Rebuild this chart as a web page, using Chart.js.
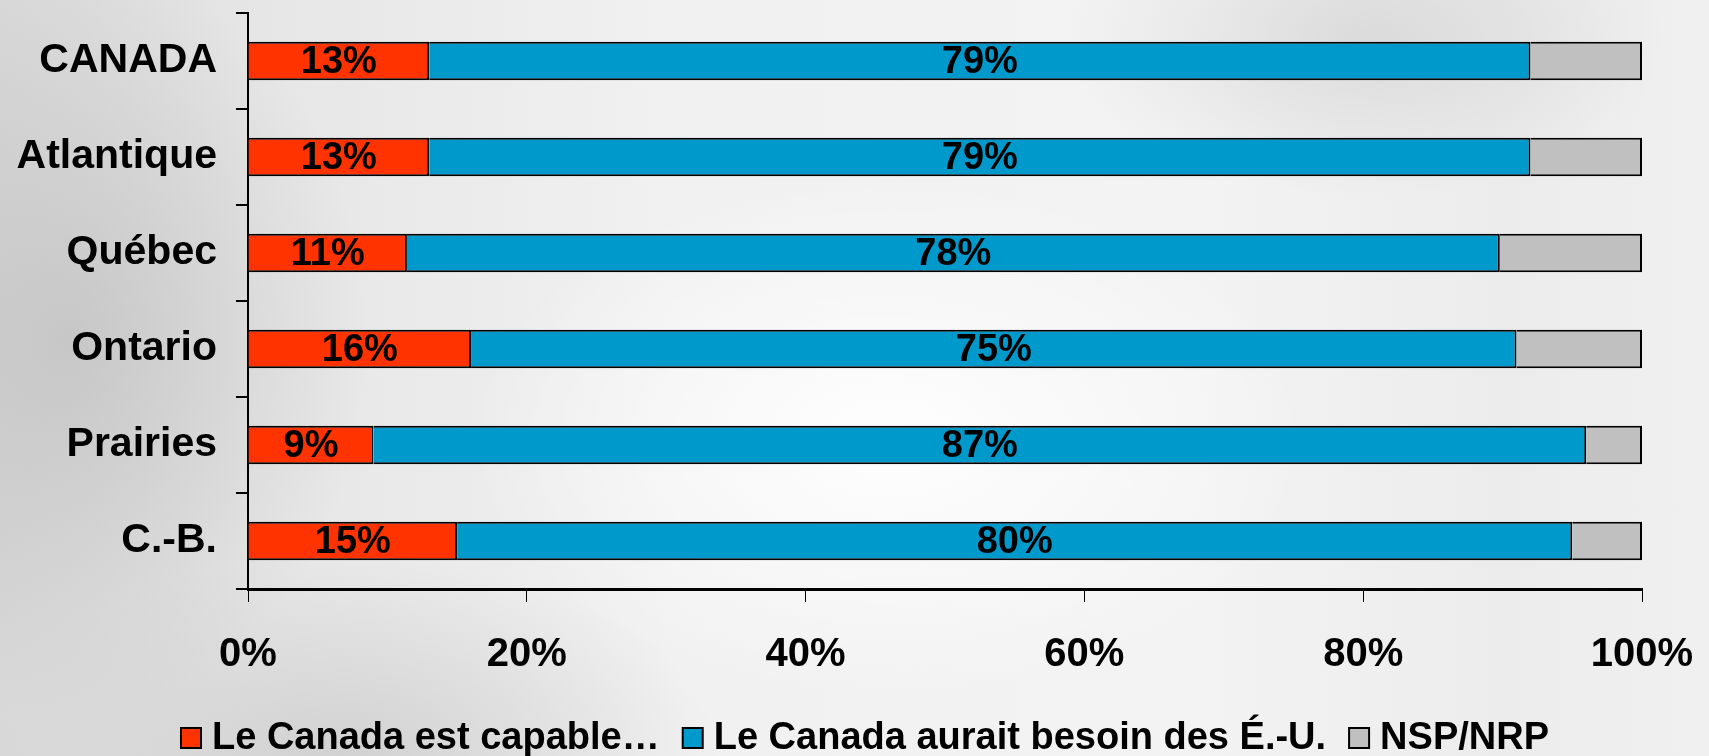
<!DOCTYPE html>
<html>
<head>
<meta charset="utf-8">
<script src="https://cdn.jsdelivr.net/npm/chart.js@4/dist/chart.umd.min.js"></script>
<style>
  html, body { margin: 0; padding: 0; }
  body {
    width: 1709px; height: 756px; overflow: hidden;
    background:
      radial-gradient(ellipse 420px 260px at 52% 58%, rgba(255,255,255,0.95) 0%, rgba(255,255,255,0) 100%),
      radial-gradient(ellipse 300px 380px at 4% 45%, rgba(190,190,190,0.7) 0%, rgba(190,190,190,0) 100%),
      radial-gradient(ellipse 380px 200px at 20% 100%, rgba(200,200,200,0.7) 0%, rgba(200,200,200,0) 100%),
      radial-gradient(ellipse 300px 160px at 80% 5%, rgba(205,205,205,0.6) 0%, rgba(205,205,205,0) 100%),
      linear-gradient(90deg, #d9d9d9 0%, #e6e6e6 15%, #f1f1f1 40%, #f3f3f3 70%, #ececec 88%, #f0f0f0 100%);
  }
  #wrap { position: absolute; left: 0; top: 0; width: 1709px; height: 756px; }
</style>
</head>
<body>
<div id="wrap"><canvas id="regionChart"></canvas></div>
<script>
// regions (top to bottom)
const regions = ['CANADA', 'Atlantique', 'Québec', 'Ontario', 'Prairies', 'C.-B.'];
// series, in % of respondents
const capable = [13, 13, 11.4, 16, 9, 15];
const besoinEU = [79, 79, 78.4, 75, 87, 80];
const nspNrp = [8, 8, 10.2, 9, 4, 5];
const seriesNames = ['Le Canada est capable…', 'Le Canada aurait besoin des É.-U.', 'NSP/NRP'];
const xTicks = [0, 20, 40, 60, 80, 100];

const FONT = "'Liberation Sans', Arial, sans-serif";

// draw the % inside the red and blue segments
const barLabels = {
    id: 'barLabels',
    afterDatasetsDraw(chart) {
        const ctx = chart.ctx;
        ctx.save();
        ctx.font = 'bold 38px ' + FONT;
        ctx.fillStyle = '#000';
        ctx.textAlign = 'center';
        ctx.textBaseline = 'middle';
        [0, 1].forEach(function (di) {
            const meta = chart.getDatasetMeta(di);
            meta.data.forEach(function (bar, i) {
                const v = chart.data.datasets[di].data[i];
                const cx = (bar.x + bar.base) / 2;
                ctx.fillText(Math.round(v) + '%', cx, bar.y + 2);
            });
        });
        ctx.restore();
    }
};

// legend row under the axis, tighter spacing than the built-in one
const bottomLegend = {
    id: 'bottomLegend',
    afterDraw(chart) {
        const ctx = chart.ctx;
        const box = 20, gapText = 11, gapItem = 23;
        const cy = 738;
        ctx.save();
        ctx.font = 'bold 38px ' + FONT;
        ctx.textBaseline = 'middle';
        ctx.textAlign = 'left';
        const items = chart.data.datasets.map(ds => ({
            text: ds.label, color: ds.backgroundColor, w: ctx.measureText(ds.label).width
        }));
        let total = 0;
        items.forEach((it, i) => {
            total += box + gapText + it.w + (i < items.length - 1 ? gapItem : 0);
        });
        let x = 865 - total / 2;
        items.forEach(function (it) {
            ctx.fillStyle = it.color;
            ctx.fillRect(x, cy - box / 2, box, box);
            ctx.lineWidth = 2;
            ctx.strokeStyle = '#000';
            ctx.strokeRect(x, cy - box / 2, box, box);
            ctx.fillStyle = '#000';
            ctx.fillText(it.text, x + box + gapText, cy + 1);
            x += box + gapText + it.w + gapItem;
        });
        ctx.restore();
    }
};

const ctx = document.getElementById('regionChart').getContext('2d');
const regionChart = new Chart(ctx, {
    type: 'bar',
    data: {
        labels: regions,
        datasets: [{
            label: seriesNames[0],
            data: capable,
            backgroundColor: '#FF3300',
            borderColor: '#000',
            borderWidth: 2,
        }, {
            label: seriesNames[1],
            data: besoinEU,
            backgroundColor: '#0099CC',
            borderColor: '#000',
            borderWidth: 2,
        }, {
            label: seriesNames[2],
            data: nspNrp,
            backgroundColor: '#C0C0C0',
            borderColor: '#000',
            borderWidth: 2,
        }]
    },
    options: {
        indexAxis: 'y',
        responsive: true,
        maintainAspectRatio: false,
        animation: false,
        categoryPercentage: 1,
        barPercentage: 0.4,
        layout: {
            padding: { left: 14, top: 13, right: 67, bottom: 55 }
        },
        scales: {
            x: {
                stacked: true,
                min: 0,
                max: 100,
                afterBuildTicks: function (axis) {
                    axis.ticks = xTicks.map(v => ({ value: v }));
                },
                afterFit: function (axis) {
                    axis.height = 112;
                    axis.paddingLeft = 0;
                    axis.paddingRight = 0;
                },
                border: { display: true, color: '#000', width: 3 },
                grid: {
                    drawOnChartArea: false,
                    drawTicks: true,
                    tickLength: 13,
                    color: '#000',
                    lineWidth: 1
                },
                ticks: {
                    padding: 29,
                    color: '#000',
                    font: { family: FONT, size: 40, weight: 'bold' },
                    callback: v => v + '%'
                }
            },
            y: {
                stacked: true,
                afterFit: function (axis) {
                    axis.width = 234;
                    axis.paddingTop = 0;
                    axis.paddingBottom = 0;
                },
                border: { display: true, color: '#000', width: 2 },
                grid: {
                    offset: true,
                    drawOnChartArea: false,
                    drawTicks: true,
                    tickLength: 12,
                    color: '#000',
                    lineWidth: 2
                },
                ticks: {
                    padding: 19,
                    color: '#000',
                    font: { family: FONT, size: 41, weight: 'bold' }
                }
            }
        },
        plugins: {
            legend: { display: false },
            tooltip: { enabled: false }
        }
    },
    plugins: [barLabels, bottomLegend]
});
</script>
</body>
</html>
